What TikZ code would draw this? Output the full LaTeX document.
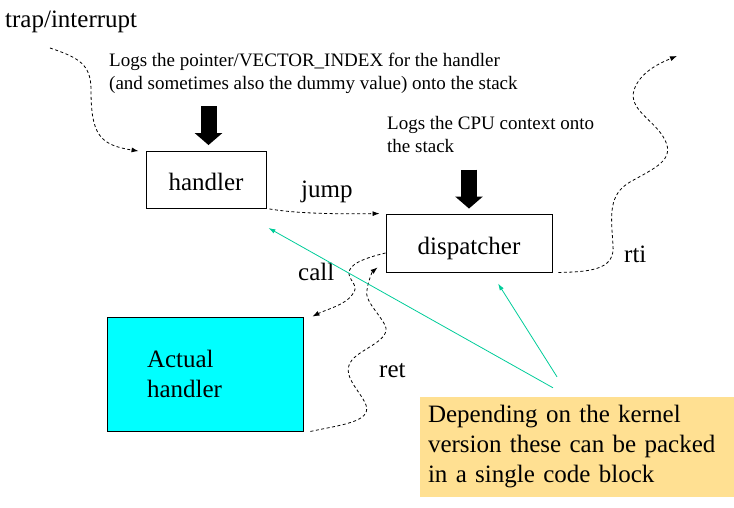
\documentclass[tikz,border=0pt]{standalone}
\usepackage{fontspec}
\setmainfont{Liberation Serif}
\usepackage{xcolor}
\usepackage{tikz}
\usetikzlibrary{shapes,arrows,arrows.meta,positioning,calc}
\definecolor{notecolor}{RGB}{255,224,146}
\definecolor{linkcolor}{RGB}{0,204,153}
\definecolor{actcolor}{RGB}{0,255,255}
\newcommand{\lblsize}{\rmfamily\fontsize{25}{30}\selectfont}
\newcommand{\logsize}{\rmfamily\fontsize{19}{23}\selectfont}

\begin{document}
\begin{tikzpicture}[x=1pt,y=-1pt,>=latex',every node/.style={font=\lblsize,inner sep=0pt},
  box/.style={draw,line width=0.9pt,text height=22pt,text depth=0pt},
  flow/.style={-{Latex[length=7pt,width=5pt]},line width=0.8pt,dash pattern=on 3pt off 2.5pt},
  link/.style={-{Latex[length=7pt,width=4.5pt]},line width=0.8pt,linkcolor},
  bigarrow/.style={line width=16pt,-{Triangle[width=27pt,length=12pt]}}]
\useasboundingbox (0,0) rectangle (734,508);
\node[anchor=base west](trap) at (5,28) {trap/interrupt};
\node[anchor=north west,font=\logsize,align=left](logs1) at (109,53) {Logs the pointer/VECTOR\_INDEX for the handler\\(and sometimes also the dummy value) onto the stack};
\node[anchor=north west,font=\logsize,align=left](logs2) at (387,116) {Logs the CPU context onto\\the stack};
\node[box,minimum width=120pt,minimum height=57pt](hnd) at (206,180) {handler};
\node[box,minimum width=166pt,minimum height=58pt](disp) at (469,243) {dispatcher};
\node[draw,line width=0.9pt,fill=actcolor,align=left,text width=116pt,inner xsep=40pt,minimum height=114pt](act) at (205,374) {Actual\\handler};
\node[fill=notecolor,align=left,text width=298pt,inner xsep=8pt,minimum height=100pt](note) at (577,447) {Depending on the kernel\\version these can be packed\\in a single code block};
\node[anchor=base west](jump) at (301,197) {jump};
\node[anchor=base west](call) at (298,280) {call};
\node[anchor=base west](ret) at (379,377) {ret};
\node[anchor=base west](rti) at (624,262) {rti};
\coordinate (trapout) at (50,48);
\coordinate (rtiout) at (677,56);
% stack pushes
\draw[bigarrow] ([xshift=2.5pt,yshift=45pt]hnd.north) -- ([xshift=2.5pt,yshift=6pt]hnd.north);
\draw[bigarrow] ([yshift=44pt]disp.north) -- ([yshift=5pt]disp.north);
% control flow
\draw[flow] (trapout) .. controls (80,58) and (91,65) .. (91,90) .. controls (91,135) and (100,145) .. ([xshift=-7pt]hnd.north west);
\draw[flow] ([xshift=3pt]hnd.south east) .. controls (300,214) and (340,214) .. ([xshift=-6pt]disp.north west);
\draw[flow] ([yshift=-10pt]disp.west) .. controls (365,258) and (348,264) .. (349,274) .. controls (350,282) and (360,286) .. (352,295) .. controls (345,305) and (325,310) .. ([xshift=9pt]act.north east);
\draw[flow] ([xshift=7pt]act.south east) .. controls (340,425) and (372,422) .. (366,405) .. controls (360,390) and (340,375) .. (352,360) .. controls (362,348) and (392,340) .. (385,325) .. controls (378,312) and (364,300) .. (367,290) .. controls (368,282) and (372,272) .. ([xshift=-8pt,yshift=5pt]disp.south west);
\draw[flow] ([xshift=6pt]disp.south east) .. controls (595,272) and (615,268) .. (613,245) .. controls (611,215) and (608,195) .. (630,182) .. controls (655,168) and (675,160) .. (665,140) .. controls (655,120) and (628,110) .. (634,90) .. controls (640,72) and (660,63) .. (rtiout);
% note pointers
\draw[link] ([xshift=-24pt,yshift=9pt]note.north) -- ([xshift=2pt,yshift=-19pt]hnd.south east);
\draw[link] ([xshift=-20pt,yshift=20pt]note.north) -- ([xshift=29pt,yshift=-11pt]disp.south);
\end{tikzpicture}
\end{document}
